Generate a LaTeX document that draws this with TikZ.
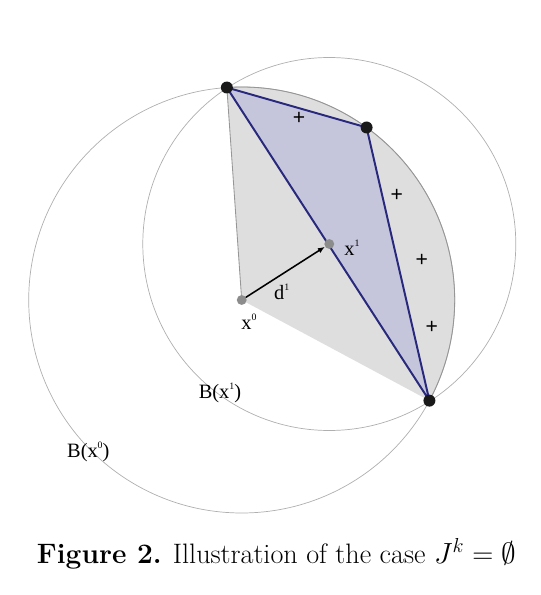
\documentclass[tikz,border=0pt]{standalone}
\usepackage{fontspec}
\newfontfamily\lblfont{Liberation Serif}
\newfontfamily\plusfont{Liberation Sans}
\usetikzlibrary{arrows.meta,calc}
\definecolor{sectgray}{RGB}{222,222,222}
\definecolor{ringgray}{RGB}{175,175,175}
\definecolor{arcgray}{RGB}{150,150,150}
\definecolor{lavender}{RGB}{197,197,220}
\definecolor{navy}{RGB}{40,40,125}
\definecolor{dotgray}{RGB}{140,140,140}

\begin{document}
\begin{tikzpicture}[x=0.025cm,y=0.025cm,>=Latex,line cap=round,line join=round]
  \tikzset{
    ring/.style={line width=0.5pt,draw=ringgray},
    sector/.style={fill=sectgray},
    rim/.style={line width=0.6pt,draw=arcgray},
    simplex/.style={fill=lavender,draw=navy,line width=1.4pt},
    vertex/.style={circle,fill=black!90,inner sep=0pt,minimum size=8.5pt},
    iterate/.style={circle,fill=dotgray,inner sep=0pt,minimum size=7pt},
    lbl/.style={font=\lblfont\fontsize{14.5}{17}\selectfont,inner sep=0pt},
    plus/.style={font=\plusfont\fontsize{15}{17}\selectfont,inner sep=0pt}
  }
  \newcommand{\upidx}[1]{\raisebox{1ex}{\fontsize{7}{7}\selectfont #1}}

  \useasboundingbox (0,0) rectangle (541,595);

  % centres of the two balls, vertices on the rim of B(x^0)
  \coordinate (c0) at (241.7,295);
  \coordinate (c1) at (329.3,351);
  \coordinate (p1) at ($(c0)+(94:213)$);
  \coordinate (p2) at ($(c0)+(54.1:213)$);
  \coordinate (p3) at ($(c0)+(-28.2:213)$);

  \fill[sector] (c0) -- (p1) arc[start angle=94,end angle=-28.2,radius=213] -- cycle;
  \draw[ring] (c0) circle[radius=213];
  \draw[ring] (c1) circle[radius=186.5];
  \draw[rim] (c0) -- (p1);
  \draw[rim] (p1) arc[start angle=94,end angle=-28.2,radius=213];
  \filldraw[simplex] (p1) -- (p2) -- (p3) -- cycle;

  \node[iterate] (x0) at (c0) {};
  \node[iterate] (x1) at (c1) {};
  \node[vertex] (v1) at (p1) {};
  \node[vertex] (v2) at (p2) {};
  \node[vertex] (v3) at (p3) {};
  \draw[-{Latex[length=5pt,width=4pt]},line width=1.1pt] (x0) -- (x1);

  \node[lbl] (d1) at (281.7,303.3) {d\upidx{1}};
  \node[lbl] (lx1) at (352,347) {x\upidx{1}};
  \node[lbl] (lx0) at (249,273) {x\upidx{0}};
  \node[lbl] (b1) at (220,202.3) {B(x\upidx{1})};
  \node[lbl] (b0) at (88.3,143.3) {B(x\upidx{0})};

  % the signs
  \node[plus] (s1) at (299,477) {+};
  \node[plus] (s2) at (396.7,400) {+};
  \node[plus] (s3) at (421.7,335) {+};
  \node[plus] (s4) at (431.7,267.3) {+};

  \node[anchor=base,inner sep=0pt,font=\fontsize{20}{24}\selectfont] (cap) at (276.5,31.7)
    {\textbf{Figure 2.} Illustration of the case $J^k=\emptyset$};
\end{tikzpicture}
\end{document}
